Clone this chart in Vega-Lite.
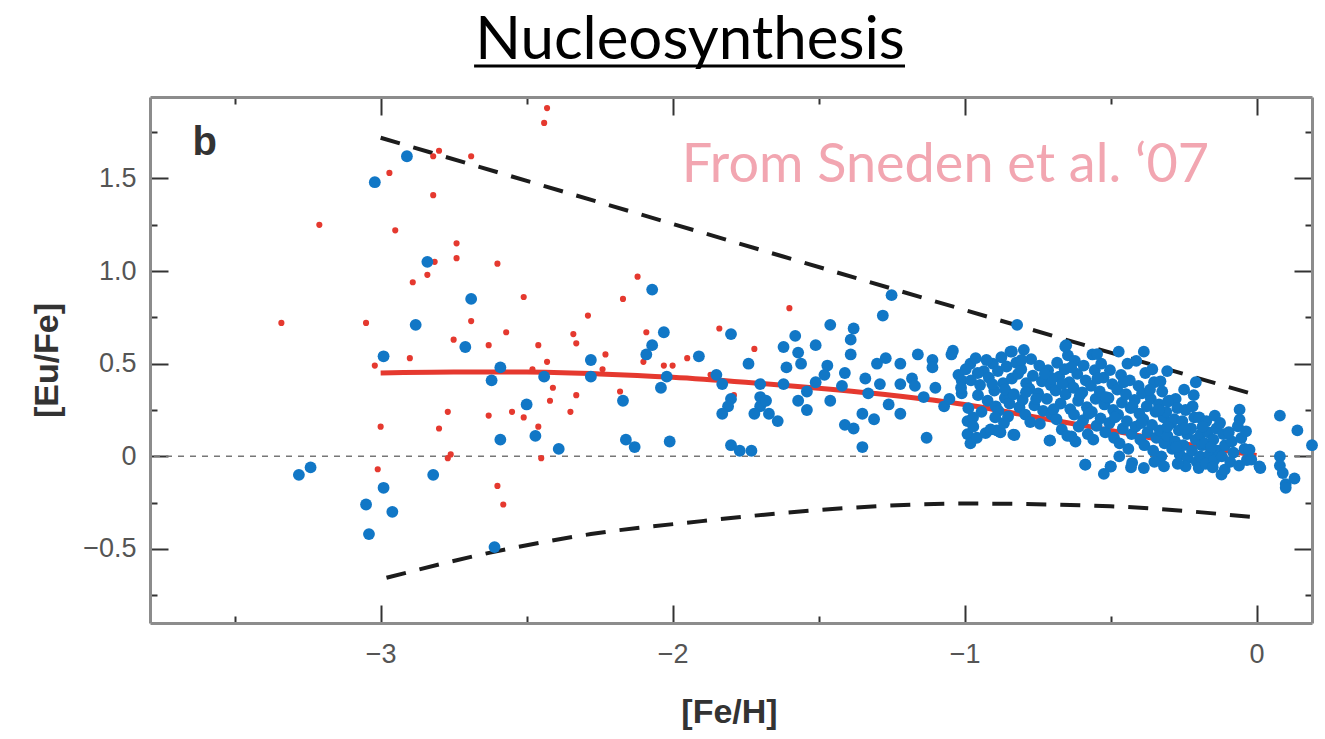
{
  "$schema": "https://vega.github.io/schema/vega-lite/v6.json",
  "width": 1162,
  "height": 526,
  "autosize": {"type": "none"},
  "padding": {"left": 150, "top": 97, "right": 13, "bottom": 116},
  "background": "white",
  "title": {"text": "Nucleosynthesis", "font": "Lato", "fontSize": 60, "fontWeight": "normal", "color": "#000000", "anchor": "middle", "frame": "group", "dx": -41, "dy": 92, "baseline": "alphabetic", "offset": 38},
  "config": {
    "view": {"stroke": null},
    "axis": {"grid": false, "domainColor": "#8c8c8c", "domainWidth": 3, "tickColor": "#333333", "tickWidth": 2, "labelFont": "Liberation Sans", "labelFontSize": 27, "labelColor": "#555555", "titleFont": "Liberation Sans", "titleFontWeight": "bold", "titleFontSize": 34, "titleColor": "#333333", "labelOverlap": false, "labelFlush": false}
  },
  "datasets": {
    "curves": [
      {"curve": "upper", "FeH": -3.0, "EuFe": 1.72},
      {"curve": "upper", "FeH": -2.0, "EuFe": 1.255},
      {"curve": "upper", "FeH": -1.0, "EuFe": 0.79},
      {"curve": "upper", "FeH": 0.0, "EuFe": 0.33},
      {"curve": "lower", "FeH": -2.98, "EuFe": -0.656},
      {"curve": "lower", "FeH": -2.625, "EuFe": -0.52},
      {"curve": "lower", "FeH": -2.28, "EuFe": -0.42},
      {"curve": "lower", "FeH": -1.9, "EuFe": -0.35},
      {"curve": "lower", "FeH": -1.5, "EuFe": -0.29},
      {"curve": "lower", "FeH": -1.0, "EuFe": -0.255},
      {"curve": "lower", "FeH": -0.5, "EuFe": -0.27},
      {"curve": "lower", "FeH": 0.0, "EuFe": -0.33},
      {"curve": "mean", "FeH": -3.0, "EuFe": 0.45},
      {"curve": "mean", "FeH": -2.75, "EuFe": 0.455},
      {"curve": "mean", "FeH": -2.5, "EuFe": 0.455},
      {"curve": "mean", "FeH": -2.25, "EuFe": 0.445},
      {"curve": "mean", "FeH": -2.0, "EuFe": 0.427},
      {"curve": "mean", "FeH": -1.75, "EuFe": 0.4},
      {"curve": "mean", "FeH": -1.5, "EuFe": 0.368},
      {"curve": "mean", "FeH": -1.25, "EuFe": 0.33},
      {"curve": "mean", "FeH": -1.0, "EuFe": 0.28},
      {"curve": "mean", "FeH": -0.75, "EuFe": 0.21},
      {"curve": "mean", "FeH": -0.5, "EuFe": 0.14},
      {"curve": "mean", "FeH": -0.25, "EuFe": 0.068},
      {"curve": "mean", "FeH": 0.0, "EuFe": 0.005}
    ],
    "stars": [
      {"set": "r", "FeH": -3.34, "EuFe": 0.72}, {"set": "r", "FeH": -3.05, "EuFe": 0.72}, {"set": "r", "FeH": -3.21, "EuFe": 1.25}, {"set": "r", "FeH": -2.95, "EuFe": 1.22},
      {"set": "r", "FeH": -2.97, "EuFe": 1.53}, {"set": "r", "FeH": -3.02, "EuFe": 0.49}, {"set": "r", "FeH": -3.0, "EuFe": 0.16}, {"set": "r", "FeH": -3.01, "EuFe": -0.07},
      {"set": "r", "FeH": -2.43, "EuFe": 1.88}, {"set": "r", "FeH": -2.44, "EuFe": 1.8}, {"set": "r", "FeH": -2.82, "EuFe": 1.62}, {"set": "r", "FeH": -2.8, "EuFe": 1.65},
      {"set": "r", "FeH": -2.69, "EuFe": 1.62}, {"set": "r", "FeH": -2.82, "EuFe": 1.41}, {"set": "r", "FeH": -2.74, "EuFe": 1.15}, {"set": "r", "FeH": -2.74, "EuFe": 1.07},
      {"set": "r", "FeH": -2.815, "EuFe": 1.05}, {"set": "r", "FeH": -2.6, "EuFe": 1.04}, {"set": "r", "FeH": -2.84, "EuFe": 0.98}, {"set": "r", "FeH": -2.89, "EuFe": 0.94},
      {"set": "r", "FeH": -2.12, "EuFe": 0.97}, {"set": "r", "FeH": -2.51, "EuFe": 0.86}, {"set": "r", "FeH": -2.17, "EuFe": 0.85}, {"set": "r", "FeH": -2.29, "EuFe": 0.76},
      {"set": "r", "FeH": -2.69, "EuFe": 0.73}, {"set": "r", "FeH": -2.75, "EuFe": 0.63}, {"set": "r", "FeH": -2.57, "EuFe": 0.67}, {"set": "r", "FeH": -2.34, "EuFe": 0.66},
      {"set": "r", "FeH": -2.33, "EuFe": 0.61}, {"set": "r", "FeH": -2.09, "EuFe": 0.67}, {"set": "r", "FeH": -2.63, "EuFe": 0.6}, {"set": "r", "FeH": -2.46, "EuFe": 0.6},
      {"set": "r", "FeH": -2.23, "EuFe": 0.55}, {"set": "r", "FeH": -2.9, "EuFe": 0.53}, {"set": "r", "FeH": -2.43, "EuFe": 0.51}, {"set": "r", "FeH": -2.1, "EuFe": 0.51},
      {"set": "r", "FeH": -2.03, "EuFe": 0.49}, {"set": "r", "FeH": -2.0, "EuFe": 0.49}, {"set": "r", "FeH": -1.95, "EuFe": 0.53}, {"set": "r", "FeH": -2.48, "EuFe": 0.47},
      {"set": "r", "FeH": -2.24, "EuFe": 0.47}, {"set": "r", "FeH": -2.41, "EuFe": 0.37}, {"set": "r", "FeH": -2.33, "EuFe": 0.33}, {"set": "r", "FeH": -2.42, "EuFe": 0.3},
      {"set": "r", "FeH": -2.18, "EuFe": 0.35}, {"set": "r", "FeH": -2.77, "EuFe": 0.24}, {"set": "r", "FeH": -2.55, "EuFe": 0.24}, {"set": "r", "FeH": -2.35, "EuFe": 0.24},
      {"set": "r", "FeH": -2.63, "EuFe": 0.22}, {"set": "r", "FeH": -2.51, "EuFe": 0.21}, {"set": "r", "FeH": -2.8, "EuFe": 0.15}, {"set": "r", "FeH": -2.46, "EuFe": 0.16},
      {"set": "r", "FeH": -2.76, "EuFe": 0.01}, {"set": "r", "FeH": -2.77, "EuFe": -0.01}, {"set": "r", "FeH": -2.45, "EuFe": -0.01}, {"set": "r", "FeH": -2.6, "EuFe": -0.16},
      {"set": "r", "FeH": -2.58, "EuFe": -0.26}, {"set": "r", "FeH": -1.6, "EuFe": 0.8}, {"set": "r", "FeH": -1.84, "EuFe": 0.69}, {"set": "r", "FeH": -1.72, "EuFe": 0.58},
      {"set": "r", "FeH": -1.79, "EuFe": 0.33}, {"set": "r", "FeH": -1.87, "EuFe": 0.44},
      {"set": "b", "FeH": -3.02, "EuFe": 1.48}, {"set": "b", "FeH": -2.91, "EuFe": 1.62}, {"set": "b", "FeH": -2.99, "EuFe": 0.54}, {"set": "b", "FeH": -3.28, "EuFe": -0.1},
      {"set": "b", "FeH": -3.24, "EuFe": -0.06}, {"set": "b", "FeH": -2.99, "EuFe": -0.17}, {"set": "b", "FeH": -3.05, "EuFe": -0.26}, {"set": "b", "FeH": -2.96, "EuFe": -0.3},
      {"set": "b", "FeH": -3.04, "EuFe": -0.42}, {"set": "b", "FeH": -2.84, "EuFe": 1.05}, {"set": "b", "FeH": -2.07, "EuFe": 0.9}, {"set": "b", "FeH": -2.69, "EuFe": 0.85},
      {"set": "b", "FeH": -2.88, "EuFe": 0.71}, {"set": "b", "FeH": -2.03, "EuFe": 0.67}, {"set": "b", "FeH": -2.07, "EuFe": 0.6}, {"set": "b", "FeH": -2.09, "EuFe": 0.55},
      {"set": "b", "FeH": -2.71, "EuFe": 0.59}, {"set": "b", "FeH": -2.28, "EuFe": 0.52}, {"set": "b", "FeH": -1.91, "EuFe": 0.54}, {"set": "b", "FeH": -2.59, "EuFe": 0.48},
      {"set": "b", "FeH": -2.44, "EuFe": 0.43}, {"set": "b", "FeH": -2.28, "EuFe": 0.43}, {"set": "b", "FeH": -2.02, "EuFe": 0.43}, {"set": "b", "FeH": -2.62, "EuFe": 0.41},
      {"set": "b", "FeH": -2.04, "EuFe": 0.37}, {"set": "b", "FeH": -2.17, "EuFe": 0.3}, {"set": "b", "FeH": -2.5, "EuFe": 0.28}, {"set": "b", "FeH": -2.59, "EuFe": 0.09},
      {"set": "b", "FeH": -2.47, "EuFe": 0.11}, {"set": "b", "FeH": -2.16, "EuFe": 0.09}, {"set": "b", "FeH": -2.13, "EuFe": 0.05}, {"set": "b", "FeH": -2.01, "EuFe": 0.08},
      {"set": "b", "FeH": -2.39, "EuFe": 0.04}, {"set": "b", "FeH": -2.82, "EuFe": -0.1}, {"set": "b", "FeH": -2.61, "EuFe": -0.49},
      {"set": "b", "FeH": -1.25, "EuFe": 0.87}, {"set": "b", "FeH": -1.28, "EuFe": 0.76}, {"set": "b", "FeH": -1.8, "EuFe": 0.66}, {"set": "b", "FeH": -1.46, "EuFe": 0.71},
      {"set": "b", "FeH": -1.38, "EuFe": 0.69}, {"set": "b", "FeH": -1.58, "EuFe": 0.65}, {"set": "b", "FeH": -1.51, "EuFe": 0.6}, {"set": "b", "FeH": -1.39, "EuFe": 0.63},
      {"set": "b", "FeH": -1.39, "EuFe": 0.55}, {"set": "b", "FeH": -1.62, "EuFe": 0.59}, {"set": "b", "FeH": -1.57, "EuFe": 0.56}, {"set": "b", "FeH": -1.74, "EuFe": 0.5},
      {"set": "b", "FeH": -1.61, "EuFe": 0.48}, {"set": "b", "FeH": -1.56, "EuFe": 0.5}, {"set": "b", "FeH": -1.47, "EuFe": 0.49}, {"set": "b", "FeH": -1.48, "EuFe": 0.44},
      {"set": "b", "FeH": -1.41, "EuFe": 0.45}, {"set": "b", "FeH": -1.3, "EuFe": 0.5}, {"set": "b", "FeH": -1.27, "EuFe": 0.53}, {"set": "b", "FeH": -1.22, "EuFe": 0.5},
      {"set": "b", "FeH": -1.16, "EuFe": 0.55}, {"set": "b", "FeH": -1.11, "EuFe": 0.52}, {"set": "b", "FeH": -1.11, "EuFe": 0.48}, {"set": "b", "FeH": -1.04, "EuFe": 0.57},
      {"set": "b", "FeH": -0.98, "EuFe": 0.5}, {"set": "b", "FeH": -1.85, "EuFe": 0.44}, {"set": "b", "FeH": -1.83, "EuFe": 0.39}, {"set": "b", "FeH": -1.7, "EuFe": 0.39},
      {"set": "b", "FeH": -1.7, "EuFe": 0.32}, {"set": "b", "FeH": -1.7, "EuFe": 0.27}, {"set": "b", "FeH": -1.68, "EuFe": 0.3}, {"set": "b", "FeH": -1.67, "EuFe": 0.23},
      {"set": "b", "FeH": -1.72, "EuFe": 0.23}, {"set": "b", "FeH": -1.8, "EuFe": 0.31}, {"set": "b", "FeH": -1.81, "EuFe": 0.27}, {"set": "b", "FeH": -1.83, "EuFe": 0.23},
      {"set": "b", "FeH": -1.64, "EuFe": 0.19}, {"set": "b", "FeH": -1.62, "EuFe": 0.39}, {"set": "b", "FeH": -1.57, "EuFe": 0.3}, {"set": "b", "FeH": -1.54, "EuFe": 0.25},
      {"set": "b", "FeH": -1.54, "EuFe": 0.35}, {"set": "b", "FeH": -1.51, "EuFe": 0.4}, {"set": "b", "FeH": -1.46, "EuFe": 0.3}, {"set": "b", "FeH": -1.42, "EuFe": 0.38},
      {"set": "b", "FeH": -1.41, "EuFe": 0.17}, {"set": "b", "FeH": -1.38, "EuFe": 0.15}, {"set": "b", "FeH": -1.35, "EuFe": 0.05}, {"set": "b", "FeH": -1.35, "EuFe": 0.23},
      {"set": "b", "FeH": -1.34, "EuFe": 0.42}, {"set": "b", "FeH": -1.31, "EuFe": 0.2}, {"set": "b", "FeH": -1.33, "EuFe": 0.34}, {"set": "b", "FeH": -1.29, "EuFe": 0.39},
      {"set": "b", "FeH": -1.26, "EuFe": 0.28}, {"set": "b", "FeH": -1.22, "EuFe": 0.23}, {"set": "b", "FeH": -1.22, "EuFe": 0.39}, {"set": "b", "FeH": -1.18, "EuFe": 0.42},
      {"set": "b", "FeH": -1.17, "EuFe": 0.38}, {"set": "b", "FeH": -1.14, "EuFe": 0.32}, {"set": "b", "FeH": -1.1, "EuFe": 0.37}, {"set": "b", "FeH": -1.13, "EuFe": 0.1},
      {"set": "b", "FeH": -1.07, "EuFe": 0.27}, {"set": "b", "FeH": -1.01, "EuFe": 0.41}, {"set": "b", "FeH": -1.01, "EuFe": 0.34}, {"set": "b", "FeH": -0.99, "EuFe": 0.19},
      {"set": "b", "FeH": -0.99, "EuFe": 0.12}, {"set": "b", "FeH": -0.98, "EuFe": 0.07}, {"set": "b", "FeH": -0.89, "EuFe": 0.14}, {"set": "b", "FeH": -1.73, "EuFe": 0.03},
      {"set": "b", "FeH": -1.77, "EuFe": 0.03}, {"set": "b", "FeH": -1.8, "EuFe": 0.06},
      {"set": "b", "FeH": -0.82, "EuFe": 0.71}, {"set": "b", "FeH": 0.08, "EuFe": 0.22}, {"set": "b", "FeH": 0.14, "EuFe": 0.14}, {"set": "b", "FeH": 0.19, "EuFe": 0.06},
      {"set": "b", "FeH": 0.08, "EuFe": 0.0}, {"set": "b", "FeH": 0.08, "EuFe": -0.05}, {"set": "b", "FeH": 0.09, "EuFe": -0.09}, {"set": "b", "FeH": 0.13, "EuFe": -0.12},
      {"set": "b", "FeH": 0.1, "EuFe": -0.15}, {"set": "b", "FeH": 0.1, "EuFe": -0.17},
      {"set": "b", "FeH": -1.045, "EuFe": 0.55}, {"set": "b", "FeH": -1.052, "EuFe": 0.31}, {"set": "b", "FeH": -1.021, "EuFe": 0.44},
      {"set": "b", "FeH": -0.996, "EuFe": 0.47}, {"set": "b", "FeH": -1.012, "EuFe": 0.37}, {"set": "b", "FeH": -0.987, "EuFe": 0.26},
      {"set": "b", "FeH": -0.962, "EuFe": 0.53}, {"set": "b", "FeH": -0.978, "EuFe": 0.41}, {"set": "b", "FeH": -0.954, "EuFe": 0.33}, {"set": "b", "FeH": -0.971, "EuFe": 0.21}, {"set": "b", "FeH": -0.958, "EuFe": 0.1},
      {"set": "b", "FeH": -0.934, "EuFe": 0.46}, {"set": "b", "FeH": -0.947, "EuFe": 0.385}, {"set": "b", "FeH": -0.921, "EuFe": 0.3}, {"set": "b", "FeH": -0.942, "EuFe": 0.24}, {"set": "b", "FeH": -0.928, "EuFe": 0.125},
      {"set": "b", "FeH": -0.903, "EuFe": 0.5}, {"set": "b", "FeH": -0.917, "EuFe": 0.425}, {"set": "b", "FeH": -0.898, "EuFe": 0.355}, {"set": "b", "FeH": -0.893, "EuFe": 0.27}, {"set": "b", "FeH": -0.911, "EuFe": 0.145},
      {"set": "b", "FeH": -0.874, "EuFe": 0.535}, {"set": "b", "FeH": -0.886, "EuFe": 0.46}, {"set": "b", "FeH": -0.868, "EuFe": 0.395}, {"set": "b", "FeH": -0.862, "EuFe": 0.315}, {"set": "b", "FeH": -0.884, "EuFe": 0.245}, {"set": "b", "FeH": -0.877, "EuFe": 0.13},
      {"set": "b", "FeH": -0.843, "EuFe": 0.565}, {"set": "b", "FeH": -0.856, "EuFe": 0.485}, {"set": "b", "FeH": -0.838, "EuFe": 0.42}, {"set": "b", "FeH": -0.861, "EuFe": 0.36}, {"set": "b", "FeH": -0.846, "EuFe": 0.285}, {"set": "b", "FeH": -0.851, "EuFe": 0.215},
      {"set": "b", "FeH": -0.823, "EuFe": 0.505}, {"set": "b", "FeH": -0.817, "EuFe": 0.445}, {"set": "b", "FeH": -0.831, "EuFe": 0.335}, {"set": "b", "FeH": -0.812, "EuFe": 0.265}, {"set": "b", "FeH": -0.829, "EuFe": 0.115},
      {"set": "b", "FeH": -0.797, "EuFe": 0.575}, {"set": "b", "FeH": -0.806, "EuFe": 0.47}, {"set": "b", "FeH": -0.789, "EuFe": 0.395}, {"set": "b", "FeH": -0.801, "EuFe": 0.305}, {"set": "b", "FeH": -0.792, "EuFe": 0.225},
      {"set": "b", "FeH": -0.772, "EuFe": 0.525}, {"set": "b", "FeH": -0.766, "EuFe": 0.435}, {"set": "b", "FeH": -0.778, "EuFe": 0.365}, {"set": "b", "FeH": -0.761, "EuFe": 0.275}, {"set": "b", "FeH": -0.775, "EuFe": 0.185},
      {"set": "b", "FeH": -0.744, "EuFe": 0.49}, {"set": "b", "FeH": -0.735, "EuFe": 0.405}, {"set": "b", "FeH": -0.748, "EuFe": 0.34}, {"set": "b", "FeH": -0.731, "EuFe": 0.245}, {"set": "b", "FeH": -0.742, "EuFe": 0.175},
      {"set": "b", "FeH": -0.714, "EuFe": 0.465}, {"set": "b", "FeH": -0.705, "EuFe": 0.385}, {"set": "b", "FeH": -0.718, "EuFe": 0.31}, {"set": "b", "FeH": -0.702, "EuFe": 0.225}, {"set": "b", "FeH": -0.709, "EuFe": 0.085},
      {"set": "b", "FeH": -0.683, "EuFe": 0.505}, {"set": "b", "FeH": -0.676, "EuFe": 0.43}, {"set": "b", "FeH": -0.688, "EuFe": 0.355}, {"set": "b", "FeH": -0.671, "EuFe": 0.285}, {"set": "b", "FeH": -0.685, "EuFe": 0.2}, {"set": "b", "FeH": -0.667, "EuFe": 0.145},
      {"set": "b", "FeH": -0.652, "EuFe": 0.6}, {"set": "b", "FeH": -0.646, "EuFe": 0.545}, {"set": "b", "FeH": -0.657, "EuFe": 0.47}, {"set": "b", "FeH": -0.641, "EuFe": 0.4}, {"set": "b", "FeH": -0.654, "EuFe": 0.335}, {"set": "b", "FeH": -0.638, "EuFe": 0.255}, {"set": "b", "FeH": -0.648, "EuFe": 0.11},
      {"set": "b", "FeH": -0.622, "EuFe": 0.515}, {"set": "b", "FeH": -0.614, "EuFe": 0.445}, {"set": "b", "FeH": -0.627, "EuFe": 0.37}, {"set": "b", "FeH": -0.611, "EuFe": 0.3}, {"set": "b", "FeH": -0.625, "EuFe": 0.225}, {"set": "b", "FeH": -0.609, "EuFe": 0.16},
      {"set": "b", "FeH": -0.592, "EuFe": 0.49}, {"set": "b", "FeH": -0.585, "EuFe": 0.41}, {"set": "b", "FeH": -0.597, "EuFe": 0.345}, {"set": "b", "FeH": -0.581, "EuFe": 0.265}, {"set": "b", "FeH": -0.594, "EuFe": 0.195}, {"set": "b", "FeH": -0.578, "EuFe": 0.12}, {"set": "b", "FeH": -0.587, "EuFe": -0.045},
      {"set": "b", "FeH": -0.562, "EuFe": 0.55}, {"set": "b", "FeH": -0.554, "EuFe": 0.465}, {"set": "b", "FeH": -0.567, "EuFe": 0.38}, {"set": "b", "FeH": -0.551, "EuFe": 0.31}, {"set": "b", "FeH": -0.564, "EuFe": 0.24}, {"set": "b", "FeH": -0.548, "EuFe": 0.165}, {"set": "b", "FeH": -0.559, "EuFe": 0.09},
      {"set": "b", "FeH": -0.532, "EuFe": 0.5}, {"set": "b", "FeH": -0.524, "EuFe": 0.425}, {"set": "b", "FeH": -0.537, "EuFe": 0.35}, {"set": "b", "FeH": -0.521, "EuFe": 0.28}, {"set": "b", "FeH": -0.534, "EuFe": 0.205}, {"set": "b", "FeH": -0.518, "EuFe": 0.13}, {"set": "b", "FeH": -0.523, "EuFe": -0.095},
      {"set": "b", "FeH": -0.502, "EuFe": 0.465}, {"set": "b", "FeH": -0.494, "EuFe": 0.39}, {"set": "b", "FeH": -0.507, "EuFe": 0.315}, {"set": "b", "FeH": -0.491, "EuFe": 0.25}, {"set": "b", "FeH": -0.504, "EuFe": 0.18}, {"set": "b", "FeH": -0.488, "EuFe": 0.1}, {"set": "b", "FeH": -0.499, "EuFe": -0.055},
      {"set": "b", "FeH": -0.472, "EuFe": 0.565}, {"set": "b", "FeH": -0.464, "EuFe": 0.44}, {"set": "b", "FeH": -0.477, "EuFe": 0.36}, {"set": "b", "FeH": -0.461, "EuFe": 0.29}, {"set": "b", "FeH": -0.474, "EuFe": 0.225}, {"set": "b", "FeH": -0.458, "EuFe": 0.15}, {"set": "b", "FeH": -0.469, "EuFe": 0.07},
      {"set": "b", "FeH": -0.442, "EuFe": 0.5}, {"set": "b", "FeH": -0.434, "EuFe": 0.41}, {"set": "b", "FeH": -0.447, "EuFe": 0.335}, {"set": "b", "FeH": -0.431, "EuFe": 0.26}, {"set": "b", "FeH": -0.444, "EuFe": 0.19}, {"set": "b", "FeH": -0.428, "EuFe": 0.12}, {"set": "b", "FeH": -0.439, "EuFe": 0.04},
      {"set": "b", "FeH": -0.412, "EuFe": 0.515}, {"set": "b", "FeH": -0.404, "EuFe": 0.38}, {"set": "b", "FeH": -0.417, "EuFe": 0.305}, {"set": "b", "FeH": -0.401, "EuFe": 0.23}, {"set": "b", "FeH": -0.414, "EuFe": 0.16}, {"set": "b", "FeH": -0.398, "EuFe": 0.09}, {"set": "b", "FeH": -0.426, "EuFe": -0.035},
      {"set": "b", "FeH": -0.386, "EuFe": 0.565}, {"set": "b", "FeH": -0.381, "EuFe": 0.45}, {"set": "b", "FeH": -0.392, "EuFe": 0.34}, {"set": "b", "FeH": -0.376, "EuFe": 0.27}, {"set": "b", "FeH": -0.388, "EuFe": 0.2}, {"set": "b", "FeH": -0.373, "EuFe": 0.13}, {"set": "b", "FeH": -0.384, "EuFe": 0.06}, {"set": "b", "FeH": -0.386, "EuFe": -0.063},
      {"set": "b", "FeH": -0.357, "EuFe": 0.47}, {"set": "b", "FeH": -0.351, "EuFe": 0.4}, {"set": "b", "FeH": -0.362, "EuFe": 0.31}, {"set": "b", "FeH": -0.346, "EuFe": 0.24}, {"set": "b", "FeH": -0.358, "EuFe": 0.17}, {"set": "b", "FeH": -0.343, "EuFe": 0.1}, {"set": "b", "FeH": -0.354, "EuFe": 0.03},
      {"set": "b", "FeH": -0.329, "EuFe": 0.405}, {"set": "b", "FeH": -0.323, "EuFe": 0.35}, {"set": "b", "FeH": -0.334, "EuFe": 0.28}, {"set": "b", "FeH": -0.318, "EuFe": 0.21}, {"set": "b", "FeH": -0.331, "EuFe": 0.14}, {"set": "b", "FeH": -0.315, "EuFe": 0.07}, {"set": "b", "FeH": -0.326, "EuFe": 0.0},
      {"set": "b", "FeH": -0.306, "EuFe": 0.46}, {"set": "b", "FeH": -0.298, "EuFe": 0.3}, {"set": "b", "FeH": -0.309, "EuFe": 0.24}, {"set": "b", "FeH": -0.293, "EuFe": 0.18}, {"set": "b", "FeH": -0.305, "EuFe": 0.11}, {"set": "b", "FeH": -0.289, "EuFe": 0.04}, {"set": "b", "FeH": -0.317, "EuFe": -0.054},
      {"set": "b", "FeH": -0.277, "EuFe": 0.31}, {"set": "b", "FeH": -0.271, "EuFe": 0.26}, {"set": "b", "FeH": -0.282, "EuFe": 0.2}, {"set": "b", "FeH": -0.266, "EuFe": 0.14}, {"set": "b", "FeH": -0.279, "EuFe": 0.08}, {"set": "b", "FeH": -0.263, "EuFe": 0.01},
      {"set": "b", "FeH": -0.248, "EuFe": 0.36}, {"set": "b", "FeH": -0.243, "EuFe": 0.25}, {"set": "b", "FeH": -0.254, "EuFe": 0.19}, {"set": "b", "FeH": -0.238, "EuFe": 0.12}, {"set": "b", "FeH": -0.251, "EuFe": 0.06}, {"set": "b", "FeH": -0.236, "EuFe": -0.01}, {"set": "b", "FeH": -0.243, "EuFe": -0.054},
      {"set": "b", "FeH": -0.219, "EuFe": 0.27}, {"set": "b", "FeH": -0.213, "EuFe": 0.21}, {"set": "b", "FeH": -0.224, "EuFe": 0.15}, {"set": "b", "FeH": -0.208, "EuFe": 0.09}, {"set": "b", "FeH": -0.221, "EuFe": 0.03}, {"set": "b", "FeH": -0.205, "EuFe": -0.03},
      {"set": "b", "FeH": -0.208, "EuFe": 0.4}, {"set": "b", "FeH": -0.196, "EuFe": 0.21}, {"set": "b", "FeH": -0.191, "EuFe": 0.12}, {"set": "b", "FeH": -0.187, "EuFe": 0.06}, {"set": "b", "FeH": -0.193, "EuFe": 0.0}, {"set": "b", "FeH": -0.198, "EuFe": -0.063},
      {"set": "b", "FeH": -0.172, "EuFe": 0.19}, {"set": "b", "FeH": -0.166, "EuFe": 0.13}, {"set": "b", "FeH": -0.177, "EuFe": 0.07}, {"set": "b", "FeH": -0.161, "EuFe": 0.01}, {"set": "b", "FeH": -0.174, "EuFe": -0.04},
      {"set": "b", "FeH": -0.143, "EuFe": 0.22}, {"set": "b", "FeH": -0.137, "EuFe": 0.15}, {"set": "b", "FeH": -0.148, "EuFe": 0.09}, {"set": "b", "FeH": -0.132, "EuFe": 0.03}, {"set": "b", "FeH": -0.145, "EuFe": -0.02},
      {"set": "b", "FeH": -0.114, "EuFe": 0.12}, {"set": "b", "FeH": -0.108, "EuFe": 0.06}, {"set": "b", "FeH": -0.119, "EuFe": 0.0}, {"set": "b", "FeH": -0.12, "EuFe": -0.099}, {"set": "b", "FeH": -0.109, "EuFe": -0.072},
      {"set": "b", "FeH": -0.085, "EuFe": 0.08}, {"set": "b", "FeH": -0.079, "EuFe": 0.02}, {"set": "b", "FeH": -0.09, "EuFe": -0.03},
      {"set": "b", "FeH": -0.058, "EuFe": 0.252}, {"set": "b", "FeH": -0.058, "EuFe": 0.198}, {"set": "b", "FeH": -0.064, "EuFe": 0.162}, {"set": "b", "FeH": -0.052, "EuFe": 0.099},
      {"set": "b", "FeH": -0.036, "EuFe": 0.135}, {"set": "b", "FeH": -0.041, "EuFe": 0.04}, {"set": "b", "FeH": -0.033, "EuFe": -0.02},
      {"set": "b", "FeH": -0.024, "EuFe": 0.036}, {"set": "b", "FeH": -0.018, "EuFe": -0.018}, {"set": "b", "FeH": 0.01, "EuFe": -0.054}, {"set": "b", "FeH": 0.013, "EuFe": -0.063},
      {"set": "b", "FeH": -0.955, "EuFe": 0.45}, {"set": "b", "FeH": -0.905, "EuFe": 0.39}, {"set": "b", "FeH": -0.79, "EuFe": 0.345}, {"set": "b", "FeH": -0.7, "EuFe": 0.42},
      {"set": "b", "FeH": -0.62, "EuFe": 0.08}, {"set": "b", "FeH": -0.707, "EuFe": 0.086}, {"set": "b", "FeH": -0.634, "EuFe": 0.108}, {"set": "b", "FeH": -0.833, "EuFe": 0.117},
      {"set": "b", "FeH": -0.882, "EuFe": 0.135}, {"set": "b", "FeH": -0.546, "EuFe": 0.552}, {"set": "b", "FeH": -0.655, "EuFe": 0.593}, {"set": "b", "FeH": -0.838, "EuFe": 0.566},
      {"set": "b", "FeH": -0.586, "EuFe": -0.045}, {"set": "b", "FeH": -0.5, "EuFe": -0.054}, {"set": "b", "FeH": -0.303, "EuFe": 0.297},
      {"set": "b", "FeH": -0.925, "EuFe": 0.52}, {"set": "b", "FeH": -0.895, "EuFe": 0.21}, {"set": "b", "FeH": -0.865, "EuFe": 0.18}, {"set": "b", "FeH": -0.805, "EuFe": 0.52},
      {"set": "b", "FeH": -0.755, "EuFe": 0.31}, {"set": "b", "FeH": -0.725, "EuFe": 0.445}, {"set": "b", "FeH": -0.695, "EuFe": 0.255}, {"set": "b", "FeH": -0.665, "EuFe": 0.39},
      {"set": "b", "FeH": -0.635, "EuFe": 0.48}, {"set": "b", "FeH": -0.605, "EuFe": 0.33}, {"set": "b", "FeH": -0.575, "EuFe": 0.23}, {"set": "b", "FeH": -0.545, "EuFe": 0.42},
      {"set": "b", "FeH": -0.515, "EuFe": 0.32}, {"set": "b", "FeH": -0.485, "EuFe": 0.21}, {"set": "b", "FeH": -0.455, "EuFe": 0.4}, {"set": "b", "FeH": -0.425, "EuFe": 0.27},
      {"set": "b", "FeH": -0.395, "EuFe": 0.18}, {"set": "b", "FeH": -0.365, "EuFe": 0.36}, {"set": "b", "FeH": -0.335, "EuFe": 0.25}, {"set": "b", "FeH": -0.305, "EuFe": 0.16},
      {"set": "b", "FeH": -0.275, "EuFe": 0.05}, {"set": "b", "FeH": -0.245, "EuFe": 0.15}, {"set": "b", "FeH": -0.215, "EuFe": 0.33}, {"set": "b", "FeH": -0.185, "EuFe": 0.16},
      {"set": "b", "FeH": -0.155, "EuFe": 0.05}, {"set": "b", "FeH": -0.125, "EuFe": 0.18}, {"set": "b", "FeH": -0.095, "EuFe": 0.13}, {"set": "b", "FeH": -0.47, "EuFe": 0.0},
      {"set": "b", "FeH": -0.43, "EuFe": -0.06}, {"set": "b", "FeH": -0.35, "EuFe": -0.03}, {"set": "b", "FeH": -0.27, "EuFe": -0.04}, {"set": "b", "FeH": -0.15, "EuFe": -0.06},
      {"set": "b", "FeH": -0.06, "EuFe": -0.05}, {"set": "b", "FeH": -0.97, "EuFe": 0.16}
    ]
  },
  "layer": [
    {
      "data": {"values": [{"level": 0}]},
      "mark": {"type": "rule", "stroke": "#777777", "strokeWidth": 1.5, "strokeDash": [6, 6]},
      "encoding": {
        "y": {"field": "level", "type": "quantitative", "scale": {"domain": [-0.9, 1.94], "nice": false, "zero": false}, "axis": null}
      }
    },
    {
      "data": {"name": "curves"},
      "transform": [{"filter": "datum.curve !== 'mean'"}],
      "mark": {"type": "line", "stroke": "#1c1c1c", "strokeWidth": 4, "strokeDash": [20, 14], "interpolate": "monotone"},
      "encoding": {
        "x": {"field": "FeH", "type": "quantitative", "scale": {"domain": [-3.79, 0.19], "nice": false, "zero": false},
          "axis": {"orient": "top", "values": [-3.5, -3, -2.5, -2, -1.5, -1, -0.5, 0], "labels": false, "title": null,
            "tickSize": {"condition": {"test": "abs(datum.value - round(datum.value)) > 0.01", "value": -7}, "value": -18}}},
        "y": {"field": "EuFe", "type": "quantitative", "scale": {"domain": [-0.9, 1.94], "nice": false, "zero": false},
          "axis": {"orient": "right", "values": [-0.75, -0.5, -0.25, 0, 0.25, 0.5, 0.75, 1, 1.25, 1.5, 1.75], "labels": false, "title": null,
            "tickSize": {"condition": {"test": "abs(datum.value * 2 - round(datum.value * 2)) > 0.01", "value": -7}, "value": -18}}},
        "detail": {"field": "curve"}
      }
    },
    {
      "data": {"name": "curves"},
      "transform": [{"filter": "datum.curve === 'mean'"}],
      "mark": {"type": "line", "stroke": "#e5392f", "strokeWidth": 5, "interpolate": "monotone"},
      "encoding": {
        "x": {"field": "FeH", "type": "quantitative", "scale": {"domain": [-3.79, 0.19], "nice": false, "zero": false}, "axis": null},
        "y": {"field": "EuFe", "type": "quantitative", "scale": {"domain": [-0.9, 1.94], "nice": false, "zero": false}, "axis": null}
      }
    },
    {
      "data": {"name": "stars"},
      "mark": {"type": "circle", "opacity": 1},
      "encoding": {
        "x": {"field": "FeH", "type": "quantitative", "scale": {"domain": [-3.79, 0.19], "nice": false, "zero": false},
          "axis": {"orient": "bottom", "values": [-3.5, -3, -2.5, -2, -1.5, -1, -0.5, 0], "title": "[Fe/H]",
            "labelExpr": "abs(datum.value - round(datum.value)) > 0.01 ? '' : format(datum.value, 'd')",
            "labelPadding": 36, "labelBaseline": "top", "titleX": 579, "titleY": 89, "titleBaseline": "middle",
            "tickSize": {"condition": {"test": "abs(datum.value - round(datum.value)) > 0.01", "value": -7}, "value": -18}}},
        "y": {"field": "EuFe", "type": "quantitative", "scale": {"domain": [-0.9, 1.94], "nice": false, "zero": false},
          "axis": {"orient": "left", "values": [-0.75, -0.5, -0.25, 0, 0.25, 0.5, 0.75, 1, 1.25, 1.5, 1.75], "title": "[Eu/Fe]",
            "labelExpr": "abs(datum.value * 2 - round(datum.value * 2)) > 0.01 ? '' : (datum.value == 0 ? '0' : format(datum.value, '.1f'))",
            "labelPadding": 32, "titleX": -103, "titleY": 263, "titleBaseline": "middle",
            "tickSize": {"condition": {"test": "abs(datum.value * 2 - round(datum.value * 2)) > 0.01", "value": -7}, "value": -18}}},
        "color": {"field": "set", "type": "nominal", "scale": {"domain": ["r", "b"], "range": ["#e5392f", "#1177c6"]}, "legend": null},
        "size": {"field": "set", "type": "nominal", "scale": {"domain": ["r", "b"], "range": [38, 140]}, "legend": null}
      }
    },
    {
      "data": {"values": [{"label": "b", "FeH": -3.603, "EuFe": 1.627}]},
      "mark": {"type": "text", "font": "Liberation Sans", "fontWeight": "bold", "fontSize": 40, "color": "#333333", "align": "center", "baseline": "alphabetic"},
      "encoding": {
        "x": {"field": "FeH", "type": "quantitative", "scale": {"domain": [-3.79, 0.19], "nice": false, "zero": false}, "axis": null},
        "y": {"field": "EuFe", "type": "quantitative", "scale": {"domain": [-0.9, 1.94], "nice": false, "zero": false}, "axis": null},
        "text": {"field": "label"}
      }
    },
    {
      "data": {"values": [{"label": "From Sneden et al. \u201807", "FeH": -1.969, "EuFe": 1.479}]},
      "mark": {"type": "text", "font": "Lato", "fontSize": 54, "color": "#f2a6b1", "align": "left", "baseline": "alphabetic"},
      "encoding": {
        "x": {"field": "FeH", "type": "quantitative", "scale": {"domain": [-3.79, 0.19], "nice": false, "zero": false}, "axis": null},
        "y": {"field": "EuFe", "type": "quantitative", "scale": {"domain": [-0.9, 1.94], "nice": false, "zero": false}, "axis": null},
        "text": {"field": "label"}
      }
    },
    {
      "data": {"values": [{"x1": -2.68, "x2": -1.204, "level": 2.107}]},
      "mark": {"type": "rule", "stroke": "#000000", "strokeWidth": 3, "clip": false},
      "encoding": {
        "x": {"field": "x1", "type": "quantitative", "scale": {"domain": [-3.79, 0.19], "nice": false, "zero": false}, "axis": null},
        "x2": {"field": "x2"},
        "y": {"field": "level", "type": "quantitative", "scale": {"domain": [-0.9, 1.94], "nice": false, "zero": false}, "axis": null}
      }
    }
  ],
  "resolve": {"axis": {"x": "independent", "y": "independent"}}
}
